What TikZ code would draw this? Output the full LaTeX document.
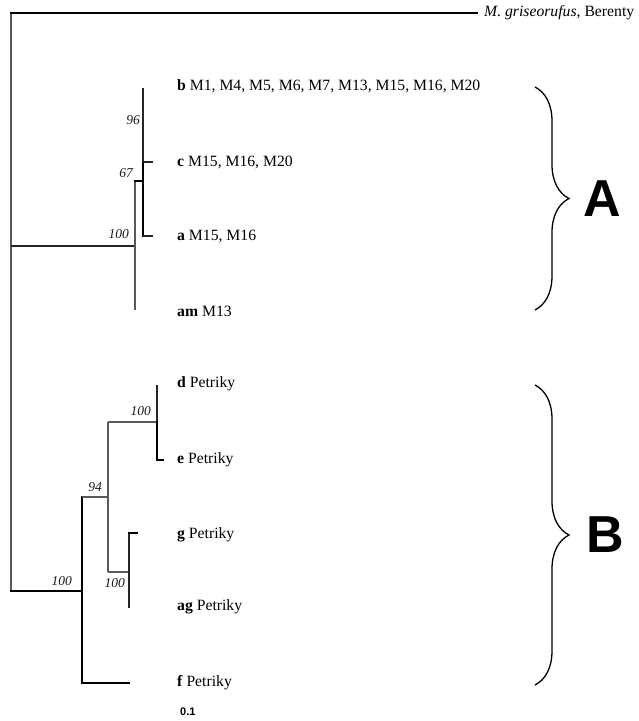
\documentclass[tikz,border=0pt]{standalone}
\usepackage{fontspec}
\setmainfont{Liberation Serif}
\newfontfamily\sansf{Liberation Sans}
\usetikzlibrary{decorations.pathreplacing}
\tikzset{
  thickbr/.style={line width=2.4pt, draw=black, line cap=rect},
  greybr/.style={line width=1.3pt, draw=black!65},
  thinbr/.style={line width=1.1pt, draw=black!85},
  leaf/.style={anchor=west, inner sep=0pt, font=\fontsize{15.7}{18}\selectfont},
  boot/.style={anchor=east, inner sep=0pt, font=\fontsize{13.5}{15}\selectfont\itshape, text=black!90},
  bracebr/.style={line width=1.3pt, decorate, decoration={brace, amplitude=34pt}},
  grp/.style={anchor=west, inner sep=0pt, font=\sansf\bfseries\fontsize{52}{52}\selectfont}
}
\begin{document}
\begin{tikzpicture}[x=1pt,y=-1pt]
\useasboundingbox (0,0) rectangle (639,721);
% coordinates of the tree
\coordinate (r1) at (11,13);
\coordinate (r2) at (11,591);
\coordinate (rA) at (11,246);
\coordinate (og) at (477,13);
\coordinate (nA) at (135,246);
\coordinate (nAt) at (135,181);
\coordinate (lam) at (135,310);
\coordinate (n67) at (143,181);
\coordinate (lb) at (143,88);
\coordinate (nc) at (143,162);
\coordinate (lc) at (153,162);
\coordinate (na) at (143,236);
\coordinate (la) at (153,236);
\coordinate (nB) at (82,591);
\coordinate (nBt) at (82,497);
\coordinate (nBb) at (82,683);
\coordinate (lf) at (129,683);
\coordinate (n94) at (108,497);
\coordinate (n94t) at (108,422);
\coordinate (n94b) at (108,572);
\coordinate (nde) at (157,422);
\coordinate (ld) at (157,385);
\coordinate (ne) at (157,460);
\coordinate (le) at (163,460);
\coordinate (ngag) at (129,572);
\coordinate (ng) at (129,533);
\coordinate (lg) at (137,533);
\coordinate (lag) at (129,608);
% branches
\draw[greybr] (r1) -- (r2);
\draw[thickbr] (r1) -- (og);
\draw[thinbr] (rA) -- (nA);
\draw[greybr] (nAt) -- (lam);
\draw[thickbr, line width=2pt] (nAt) -- (n67);
\draw[thinbr] (lb) -- (nc);
\draw[thickbr, line width=2pt] (nc) -- (na);
\draw[thinbr] (nc) -- (lc);
\draw[thinbr] (na) -- (la);
\draw[thickbr] (r2) -- (nB);
\draw[thickbr] (nBt) -- (nBb);
\draw[thickbr] (nBb) -- (lf);
\draw[greybr] (nBt) -- (n94);
\draw[greybr] (n94t) -- (n94b);
\draw[greybr] (n94t) -- (nde);
\draw[thinbr] (ld) -- (nde);
\draw[thickbr, line width=2pt] (nde) -- (ne) -- (le);
\draw[greybr] (n94b) -- (ngag);
\draw[thinbr] (ng) -- (lag);
\draw[thickbr, line width=1.8pt] (ng) -- (lg);
% bootstrap values
\node[boot] (b96) at (140,120) {96};
\node[boot] (b67) at (133,173) {67};
\node[boot] (b100a) at (129,234) {100};
\node[boot] (b100de) at (151,411) {100};
\node[boot] (b94) at (102,487) {94};
\node[boot] (b100r) at (72,581) {100};
\node[boot] (b100g) at (125,583) {100};
% leaf labels
\node[leaf] (tog) at (484,13) {\textit{M. griseorufus}, Berenty};
\node[leaf] (tb) at (177,86) {\textbf{b} M1, M4, M5, M6, M7, M13, M15, M16, M20};
\node[leaf] (tc) at (177,162) {\textbf{c} M15, M16, M20};
\node[leaf] (ta) at (177,237) {\textbf{a} M15, M16};
\node[leaf] (tam) at (177,311) {\textbf{am} M13};
\node[leaf] (td) at (177,384) {\textbf{d} Petriky};
\node[leaf] (te) at (177,460) {\textbf{e} Petriky};
\node[leaf] (tg) at (177,535) {\textbf{g} Petriky};
\node[leaf] (tag) at (177,607) {\textbf{ag} Petriky};
\node[leaf] (tf) at (177,683) {\textbf{f} Petriky};
\node[anchor=west, inner sep=0pt, font=\sansf\bfseries\fontsize{11}{12}\selectfont] (scl) at (180,712) {0.1};
% braces
\coordinate (bA1) at (535,87);
\coordinate (bA2) at (535,310);
\coordinate (bB1) at (535,385);
\coordinate (bB2) at (535,685);
\draw[bracebr] (bA1) -- (bA2);
\draw[bracebr] (bB1) -- (bB2);
\node[grp] (gA) at (583,199) {A};
\node[grp] (gB) at (586,535) {B};
\end{tikzpicture}
\end{document}
